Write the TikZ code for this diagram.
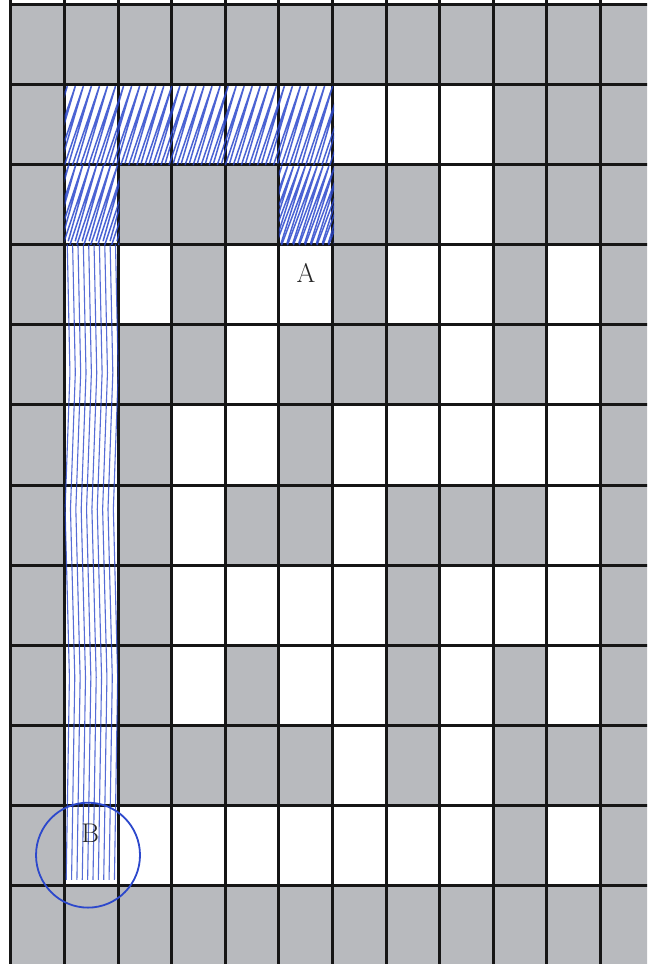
\documentclass[tikz,border=0pt]{standalone}
\usetikzlibrary{positioning}
\definecolor{CellGray}{RGB}{184,186,190}
\definecolor{InkBlue}{RGB}{44,72,204}
\definecolor{PrintBlack}{RGB}{22,22,22}
\tikzset{
  gridline/.style={line width=3pt,PrintBlack},
  inkstroke/.style={InkBlue,line width=1.5pt,opacity=.85,line cap=round},
  inkthin/.style={InkBlue,line width=1.1pt,opacity=.8,line cap=round},
  inkring/.style={InkBlue,line width=1.8pt},
  celllabel/.style={font=\fontsize{27}{27}\selectfont,text=black!85,inner sep=0pt},
}
\begin{document}
\begin{tikzpicture}[x=53.6pt,y=-80.1pt]
\useasboundingbox (-0.205,-0.056) rectangle (11.866,11.979);
\clip (-0.205,-0.056) rectangle (11.866,11.979);
\fill[white] (-0.205,-0.056) rectangle (11.866,11.979);

% Feld: grau, weisse Zellen
\fill[CellGray] (0,0) rectangle (12.2,12.2);
\foreach \r/\cols in {1/{1,2,3,4,5,6,7,8},2/{1,5,8},3/{1,2,4,5,7,8,10},4/{1,4,8,10},
  5/{1,3,4,6,7,8,9,10},6/{1,3,6,10},7/{1,3,4,5,6,8,9,10},8/{1,3,5,6,8,10},
  9/{1,6,8},10/{1,2,3,4,5,6,7,8,10}}{
  \foreach \c in \cols {\fill[white] (\c,\r) rectangle ++(1,1);}
}

% Gitterlinien
\foreach \i in {0,...,12}{\draw[gridline] (\i,-0.2) -- (\i,12.2);}
\foreach \j in {0,...,12}{\draw[gridline] (0,\j) -- (12.2,\j);}

% Schraffur Zeile 1
\begin{scope}
\clip (1,0.99) rectangle (6.03,2.02);
\foreach \x in {0.40,0.55,...,6.2}{\draw[inkstroke] (\x,2.0) -- (\x+0.5,1.02) -- (\x+0.08,1.98);}
\end{scope}
% Schraffur Spalte 1
\begin{scope}
\clip (1,2) rectangle (2.02,3);
\foreach \x in {0.45,0.58,...,2.1}{\draw[inkstroke] (\x,3) -- (\x+0.5,2) -- (\x+0.1,2.95);}
\end{scope}
\begin{scope}
\clip (0.99,3) rectangle (2.03,10.93);
\foreach \x in {1.05,1.15,...,2.0}{\draw[inkthin] (\x,3) -- (\x+0.05,4.6) -- (\x-0.04,6.3) -- (\x+0.04,8.4) -- (\x-0.02,10.93);}
\end{scope}
% Schraffur bei A
\begin{scope}
\clip (5,2) rectangle (6.03,3.02);
\foreach \x in {4.50,4.61,...,6.1}{\draw[inkstroke] (\x,3.0) -- (\x+0.55,2.02) -- (\x+0.1,2.98);}
\end{scope}

% Beschriftung
\node[celllabel] (labelA) at (5.504,3.352) {A};
\node[celllabel] (labelB) at (1.479,10.347) {B};
\draw[inkring] (1.437,10.62) ellipse [x radius=0.97, y radius=0.655];
\end{tikzpicture}
\end{document}
